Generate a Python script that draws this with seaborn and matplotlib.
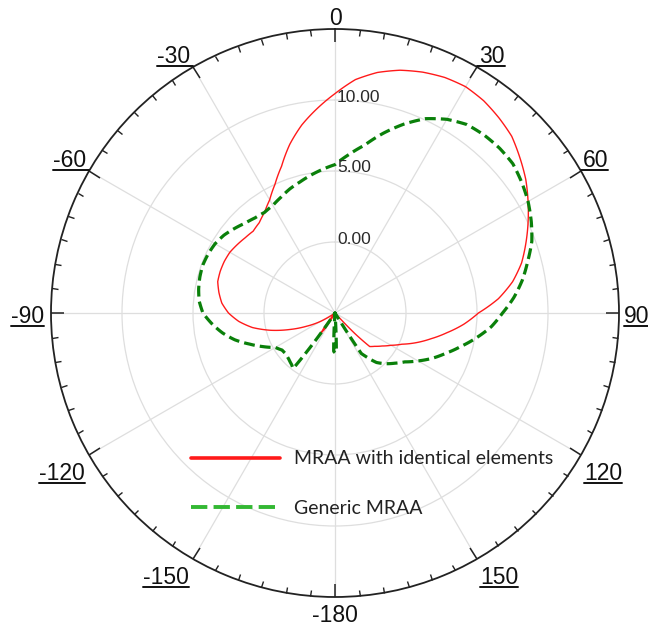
import numpy as np
import matplotlib
matplotlib.use("Agg")
import matplotlib.pyplot as plt
from matplotlib.lines import Line2D
from matplotlib.transforms import IdentityTransform
import seaborn as sns

# Gain pattern (dB) versus angle (deg, clockwise from broadside)
red_angle = [-180, -155, -150, -147, -145, -143, -141, -125, -120, -115, -110,
             -105, -100, -95, -90, -85, -80, -75, -70, -65, -60, -55, -50, -45,
             -40, -35, -30, -25, -20, -15, -10, -5, 0, 5, 10, 15, 20, 25, 30, 35,
             40, 45, 50, 55, 60, 65, 70, 75, 80, 85, 90, 95, 100, 105, 110, 115,
             120, 125, 130, 134, 136, 138, 180]
red_gain = [-5, -5, -5, -3.6, -3.3, -3.8, -5, -5, -3.8, -2.8, -1.6,
            -0.3, 0.9, 1.8, 2.5, 3.0, 3.3, 3.55, 3.6, 3.6, 3.55, 3.4, 3.25, 3.15,
            3.3, 3.65, 4.2, 5.0, 6.0, 7.3, 8.45, 9.45, 10.45, 11.5, 12.2, 12.7,
            13.05, 13.3, 13.4, 13.25, 12.95, 12.6, 12.0, 11.4, 10.7, 10.0, 9.3,
            8.6, 7.7, 6.55, 5.1, 4.1, 3.0, 2.0, 1.1, 0.2, -0.45, -0.95, -1.35,
            -1.6, -3.0, -5, -5]

green_angle = [-180, -178, -176, -175, -150, -146, -143, -140, -135, -130, -125,
               -120, -115, -110, -105, -100, -95, -90, -85, -80, -75, -70, -65,
               -60, -55, -50, -45, -40, -35, -30, -25, -20, -15, -10, -5, 0, 5,
               10, 15, 20, 25, 30, 35, 40, 45, 50, 55, 60, 65, 70, 75, 80, 85, 90,
               95, 100, 105, 110, 115, 120, 125, 130, 135, 140, 145, 147, 148.5,
               175, 176, 178, 180]
green_gain = [-2.2, -2.3, -5, -5, -5, -5, -0.1, -0.25, -0.4, -0.5, -0.45,
              -0.15, 0.6, 1.4, 2.3, 3.05, 3.7, 4.3, 4.6, 4.75, 4.85, 4.9, 4.85,
              4.75, 4.55, 4.25, 3.95, 3.75, 3.65, 3.75, 4.0, 4.3, 4.55, 4.85,
              5.15, 5.45, 6.2, 7.0, 8.1, 9.15, 10.1, 10.75, 11.2, 11.35, 11.4,
              11.35, 11.05, 10.7, 10.25, 9.75, 9.05, 8.4, 7.65, 6.8, 6.05, 5.1,
              4.15, 3.3, 2.55, 1.75, 1.0, 0.5, 0.05, -0.45, -1.3, -1.6, -5,
              -5, -5, -2.3, -2.2]

angle_ticks = [0, 30, 60, 90, 120, 150, 180, -150, -120, -90, -60, -30]
angle_labels = ["0", "30", "60", "90", "120", "150", "-180",
                "-150", "-120", "-90", "-60", "-30"]
ring_values = [0, 5, 10]
r_min, r_max = -5, 15

series_names = ["MRAA with identical elements", "Generic MRAA"]

sns.set_theme(style="white")
plt.rcParams["font.family"] = ["Liberation Sans", "DejaVu Sans"]

fig = plt.figure(figsize=(6.48, 6.27), dpi=100)
ax = fig.add_axes([51 / 648, 30 / 627, 568 / 648, 568 / 627], projection="polar")
ax.set_theta_zero_location("N")
ax.set_theta_direction(-1)

sns.lineplot(x=np.deg2rad(red_angle), y=red_gain, ax=ax, sort=False,
             estimator=None, color="#ff1a1a", linewidth=1.0)
sns.lineplot(x=np.deg2rad(green_angle), y=green_gain, ax=ax, sort=False,
             estimator=None, color="#0a800a", linewidth=2.3,
             linestyle=(0, (3.4, 1.6)))
# draw each segment as a polar arc/spiral rather than a chord
for ln in ax.lines:
    ln.get_path()._interpolation_steps = 24

ax.set_ylim(r_min, r_max)
ax.set_yticks(ring_values)
ax.set_yticklabels([])
ax.set_xticks(np.deg2rad(np.arange(0, 360, 30)))
ax.set_xticks(np.deg2rad(np.arange(0, 360, 5)), minor=True)
ax.set_xticklabels([])
ax.grid(True, color="#dedede", linewidth=0.9)
ax.tick_params(axis="x", which="both", bottom=False, top=True,
               direction="in", color="#222222")
ax.tick_params(axis="x", which="major", length=9.5, width=1.1)
ax.tick_params(axis="x", which="minor", length=4.3, width=1.0)
ax.tick_params(axis="y", left=False, right=False)
ax.spines["polar"].set_color("#222222")
ax.spines["polar"].set_linewidth(1.3)
ax.set_xlabel("")
ax.set_ylabel("")

# ring value labels along the 0 deg spoke
for v in ring_values:
    ax.annotate(f"{v:.2f}", xy=(0, v), xytext=(2, -1.5), textcoords="offset pixels",
                ha="left", va="baseline", fontsize=12.5, color="#2a2a2a")

# angle labels around the rim, underlined except 0 and -180
label_texts = []
for deg, lab in zip(angle_ticks, angle_labels):
    d = deg % 360
    if d == 0:
        off, ha = (0, 4), "center"
    elif d == 180:
        off, ha = (0, -25), "center"
    elif d in (30, 60):
        off, ha = (2, 4), "left"
    elif d in (300, 330):
        off, ha = (-3, 4), "right"
    elif d == 90:
        off, ha = (5, -10), "left"
    elif d == 270:
        off, ha = (-7, -10), "right"
    elif d in (120, 150):
        off, ha = (3, -25), "left"
    else:
        off, ha = (-4, -25), "right"
    t = ax.annotate(lab, xy=(np.deg2rad(deg), r_max), xytext=off,
                    textcoords="offset pixels", ha=ha, va="baseline",
                    fontsize=16.5, color="#111111", annotation_clip=False)
    label_texts.append((d, t, off))

# legend
handles = [Line2D([], [], color="#ff1a1a", linewidth=2.6),
           Line2D([], [], color="#33b833", linewidth=2.8,
                  linestyle=(0, (4.2, 1.6)))]
fig.legend(handles, series_names, loc="center left",
           bbox_to_anchor=(191 / 648, 1 - 483.5 / 627), frameon=False,
           prop={"family": "Lato", "size": 14}, handlelength=4.6,
           handletextpad=0.72, labelspacing=1.65, borderpad=0,
           borderaxespad=0, labelcolor="#222222")

fig.canvas.draw()
renderer = fig.canvas.get_renderer()
for d, t, off in label_texts:
    if d in (0, 180):
        continue
    bb = t.get_window_extent(renderer)
    ax_pt = ax.transData.transform((np.deg2rad(d), r_max))
    y = ax_pt[1] + off[1] - 3
    x0, x1 = bb.x0, bb.x1
    if d in (30, 60):
        x0 = min(x0, ax_pt[0])
    if d in (300, 330):
        x1 = max(x1, ax_pt[0])
    fig.add_artist(Line2D([x0, x1], [y, y], transform=IdentityTransform(),
                          color="#111111", linewidth=1.4))

fig.savefig("out.png", dpi=100)
